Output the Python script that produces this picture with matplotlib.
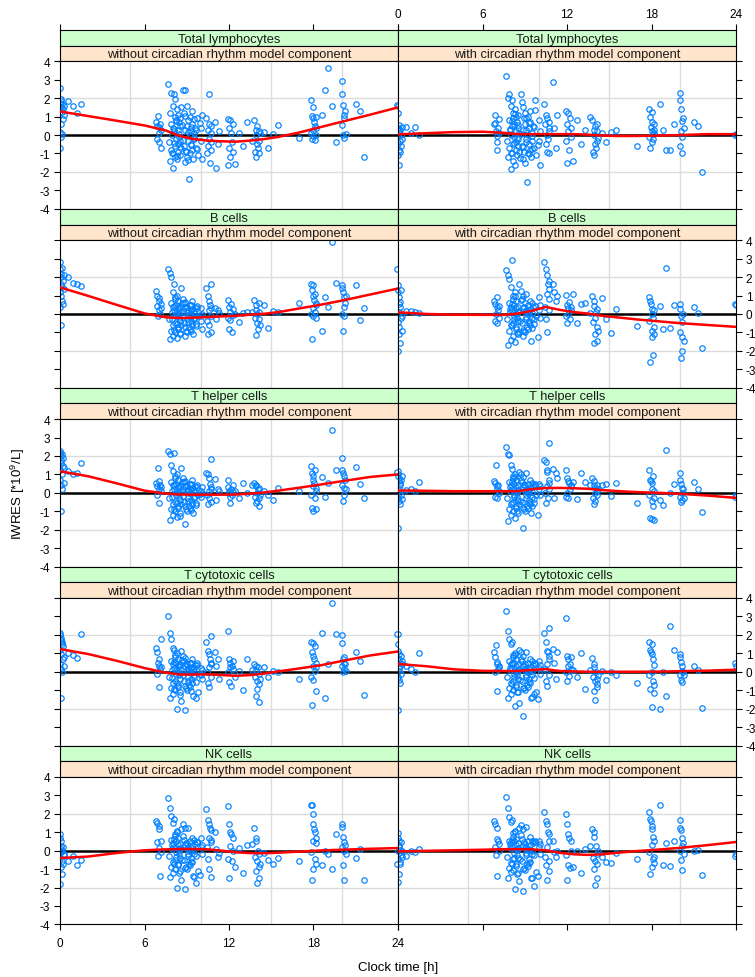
import matplotlib
matplotlib.use("Agg")
import matplotlib.pyplot as plt

plt.rcParams['font.family'] = ['Liberation Sans', 'DejaVu Sans']
plt.rcParams['axes.unicode_minus'] = False
plt.rcParams['mathtext.fontset'] = 'custom'
plt.rcParams['mathtext.rm'] = 'Liberation Sans'

# sampling clock times [h] (same samples for every cell type)
clock_h = [
    0.0, 0.0, 0.02, 0.03, 0.05, 0.06, 0.08, 0.1, 0.1, 0.12, 0.15, 0.17, 0.2, 0.22, 0.25, 0.3,
    0.6, 0.9, 1.2, 1.5,
    6.85, 6.9, 6.9, 6.95, 7.0, 7.0, 7.05, 7.1, 7.15, 7.2,
    7.7, 7.75, 7.8, 7.8, 7.85, 7.9, 7.9, 7.95, 8.0, 8.0, 8.05, 8.05, 8.1, 8.1, 8.15, 8.15, 8.2,
    8.2, 8.25, 8.25, 8.3, 8.3, 8.35, 8.35, 8.4, 8.4, 8.45, 8.45, 8.5, 8.5, 8.55, 8.55, 8.6, 8.6,
    8.75, 8.8, 8.8, 8.85, 8.9, 8.9, 8.95, 9.0, 9.0, 9.05, 9.1, 9.1, 9.15, 9.2, 9.2, 9.25, 9.3,
    9.3, 9.35, 9.4, 9.4, 9.45, 9.5, 9.55, 9.6, 9.65, 9.7, 9.8,
    10.0, 10.02, 10.05, 10.1,
    10.4, 10.45, 10.5, 10.5, 10.55, 10.6, 10.6, 10.65, 10.7, 10.7, 10.75, 10.75,
    11.0, 11.1, 11.2, 11.3,
    11.9, 11.95, 12.0, 12.0, 12.05, 12.1, 12.15, 12.2, 12.25, 12.3,
    12.45, 12.7, 13.0, 13.3, 13.6,
    13.8, 13.85, 13.9, 13.9, 13.95, 14.0, 14.0, 14.05, 14.1, 14.1, 14.15, 14.2,
    14.5, 14.8, 15.1, 15.5,
    17.0,
    17.8, 17.85, 17.9, 17.9, 17.95, 18.0, 18.0, 18.0, 18.05, 18.1, 18.1, 18.15, 18.2, 18.2,
    18.6, 18.8, 19.0, 19.3, 19.6,
    20.0, 20.0, 20.05, 20.1, 20.1, 20.15, 20.2, 20.2, 20.25, 20.3,
    21.0, 21.3, 21.6,
    23.9, 24.0,
    7.95, 8.07, 8.13, 8.22, 8.33, 8.47, 8.52, 8.66, 8.72, 8.88,
    8.93, 9.07, 9.12, 9.27, 9.33, 9.48, 9.52, 9.68, 9.74, 9.92,
]

tl_without = [
    1.75, -0.7, 2.55, 0.15, 1.95, 0.6, 1.5, -0.1, 1.85, 1.25, 0.05, 1.7, 0.85, 1.4, 1.1, 1.6,
    1.85, 1.55, 1.2, 1.7,
    0.7, -0.2, 0.5, 1.05, -0.35, 0.45, 0.1, 0.6, -0.7, 0.3,
    2.75, -0.4, 1.2, -1.4, 0.6, 2.3, -0.8, 0.0, 1.6, -1.8, 0.4, -1.0, 2.2, 0.2, -0.6, 1.0, -1.2,
    1.95, -0.2, 0.8, -1.3, 1.4, -0.5, 0.3, -0.9, 1.1, -0.1, 0.7, -1.1, 0.9, -0.3, 0.5, -0.7, 1.5,
    2.45, -0.6, 1.2, -1.45, 0.3, 2.45, -0.9, 0.5, -1.2, 1.6, -0.3, 0.8, -2.4, 0.0, 1.0, -1.0,
    0.2, -0.5, 1.3, -0.8, 0.6, -1.3, 0.1, -0.2, 0.4, -0.7, 0.9, -1.1,
    0.4, -0.3, -1.3, 1.1,
    0.9, -1.0, 0.3, -0.6, 2.2, -0.2, 0.6, -1.5, 0.1, -0.8, 0.5, -0.4,
    0.7, -1.8, -0.5, 0.2,
    0.85, -1.65, 0.4, -0.7, 0.8, -1.2, 0.1, -0.4, 0.6, -0.9,
    -1.55, 0.1, -0.6, 0.7, -0.3,
    0.8, -0.9, 0.3, -1.2, 0.0, -0.5, 0.5, -0.7, 0.2, -0.3, -1.0, 0.1,
    0.15, -0.7, 0.05, 0.55,
    -0.15,
    1.9, 0.1, 1.05, -0.2, 1.5, 0.3, 0.9, -0.05, 0.7, -0.25, 0.5, 1.0, 0.0, 0.4,
    1.1, 2.45, 3.65, 1.55, -0.4,
    2.95, 0.55, 2.2, 0.0, 1.65, -0.15, 1.1, 0.9, 1.3, 0.05,
    1.7, 1.3, -1.2,
    1.65, 1.6,
    -0.95, 0.35, -0.45, 0.75, -1.15, 0.05, -0.65, 0.55, -0.25, 1.05,
    -0.85, 0.15, -1.35, 0.45, -0.55, 0.85, -0.15, 0.25, -0.75, 0.65,
]

tl_with = [
    1.2, -0.5, 0.4, -1.1, 0.2, -0.8, 0.55, -1.6, 0.1, -0.3, 0.3, -0.9, 0.0, -0.6, 0.45, -0.2,
    0.45, 0.1, 0.45, 0.0,
    0.58, 0.67, 1.1, 0.2, -0.05, -0.4, -0.8, 0.4, 0.85, 0.1,
    3.2, -0.3, 2.0, -1.2, 0.8, 2.2, -0.7, 0.3, 1.6, -1.85, 0.0, -1.0, 1.9, 0.5, -0.5, 1.2, -1.4,
    0.9, -0.1, 0.6, -1.6, 1.4, -0.8, 0.2, -0.4, 1.0, -1.1, 0.7, -0.2, 0.4, -0.6, 1.1, -0.9, 0.1,
    2.2, -0.6, 1.8, -1.3, 0.3, 1.5, -0.9, 0.6, -1.5, 1.2, -0.2, 0.9, -2.55, 0.0, 1.0, -1.0,
    0.4, -0.5, 1.3, -0.8, 0.7, -1.2, 0.1, -0.3, 0.5, -0.7, 1.9, -1.1,
    0.8, -0.3, 0.2, -1.6,
    1.7, 0.6, -0.5, 1.1, 0.0, -0.9, 0.9, -0.2, 0.4, -1.0, 0.2, 0.7,
    2.9, 0.4, -0.7, 1.1,
    1.3, -0.3, 0.6, -1.5, 1.2, 0.2, -0.8, 0.9, -0.1, 0.4,
    -1.4, 0.8, -0.5, 0.3, 1.0,
    0.8, -0.9, 0.3, -1.1, 0.0, -0.5, 0.5, -0.7, 0.2, -0.3, 0.6, -0.15,
    0.1, -0.4, 0.15, 0.25,
    -0.6,
    1.4, -0.1, 1.0, -0.7, 0.45, 0.2, 1.25, -0.35, 0.7, 0.05, -0.2, 0.6, 0.1, 0.3,
    1.7, 0.3, -0.8, -0.8, 0.6,
    2.3, -0.6, 1.9, 0.2, 1.4, -1.0, 0.75, -0.1, 0.9, 0.4,
    0.7, 0.5, -2.0,
    0.0, 0.05,
    0.35, -0.95, 0.75, -0.45, 1.15, -0.15, 0.55, -1.25, 0.05, -0.65,
    0.95, -0.35, 0.25, -1.05, 0.65, -0.05, -0.75, 0.45, 1.35, -0.55,
]

b_without = [
    2.8, 1.2, 2.45, 0.35, 2.15, 1.6, -0.6, 2.0, 1.0, 1.45, 2.5, 0.7, 1.8, 0.55, 2.1, 1.35,
    2.0, 1.7, 1.6, 1.5,
    1.25, 0.45, 1.0, -0.1, 0.7, 0.2, 0.85, 0.0, 0.55, 0.3,
    2.45, -0.3, 2.2, -1.35, 0.6, 2.0, -0.9, 0.1, 1.2, -1.2, 0.4, -0.6, 1.6, 0.2, -0.5, 0.9, -1.0,
    0.8, -0.1, 0.5, -1.3, 1.0, -0.7, 0.3, -0.8, 0.7, -0.2, 0.0, -1.1, 0.35, -0.4, 0.15, -0.6, 1.4,
    0.8, -0.5, 0.6, -1.2, 0.3, 0.65, -0.9, 0.1, -1.0, 0.4, -0.3, 0.2, -0.7, 0.0, 0.5, -0.8,
    0.15, -0.4, 0.7, -0.6, 0.25, -1.1, 0.05, -0.2, 0.35, -0.55, 0.45, -0.1,
    0.3, -0.4, 0.0, -0.8,
    1.4, -0.4, 1.0, -1.1, 0.7, 0.2, -0.6, 0.5, -1.0, 1.65, -0.1, 0.3,
    0.3, -0.3, 0.2, 0.05,
    0.75, -0.2, 0.4, -0.8, 0.1, -0.35, 0.55, -1.0, 0.25, -0.05,
    0.0, -0.45, 0.05, 0.1, 0.1,
    0.75, -0.2, 0.5, -1.15, 0.2, -0.5, 0.0, -0.8, 0.6, -0.3, 0.1, -0.6,
    0.5, -0.75, 0.15, 0.1,
    0.6,
    1.65, 0.0, 1.3, -1.35, 0.95, 0.3, 1.55, -0.1, 0.75, 0.1, 1.1, -0.2, 0.5, 0.6,
    -0.95, 0.9, 0.4, 3.9, 1.7,
    1.55, 0.0, 1.4, -0.95, 1.2, 0.35, 0.9, -0.1, 0.6, 1.0,
    1.55, -0.35, 0.3,
    2.45, 1.3,
    -0.25, 0.45, -0.85, 0.05, -0.55, 0.25, -1.05, 0.6, -0.15, -0.7,
    0.35, -0.45, 0.1, -0.95, 0.5, -0.3, 0.15, -0.65, 0.3, -0.05,
]

b_with = [
    1.55, -0.45, 1.2, -2.0, 0.9, 0.1, -1.1, 0.55, -0.7, 0.35, -1.55, 0.65, -0.2, 1.3, -0.9, -0.1,
    0.15, 0.15, 0.1, 0.05,
    0.7, -0.4, 0.55, 0.0, 0.35, -0.5, 0.9, 0.2, -0.2, 0.45,
    2.4, -0.3, 2.1, -1.7, 0.6, 1.9, -0.9, 0.1, 1.45, -1.4, 0.4, -0.6, 2.9, 0.2, -0.5, 1.0, -1.2,
    0.8, -0.1, 0.5, -1.5, 1.2, -0.7, 0.3, -0.8, 0.7, -0.2, 0.0, -1.1, 0.35, -0.4, 0.15, -1.0, 1.6,
    1.25, -0.5, 0.8, -1.2, 0.3, 0.95, -0.9, 0.1, -1.0, 0.6, -0.3, 0.2, -0.7, 0.0, 0.5, -0.8,
    0.15, -0.4, 0.7, -0.6, 0.25, -1.45, 0.05, -0.2, 0.35, -0.55, 0.45, -0.1,
    0.9, 0.2, -0.2, 0.5,
    2.8, 0.35, 2.45, -0.25, 2.1, 1.1, -1.0, 1.6, 0.8, 1.35, 0.2, 1.8,
    1.65, 1.2, 0.7, 1.0,
    1.05, -0.1, 0.5, -0.5, 0.3, 0.0, 0.65, -0.3, 0.2, 0.4,
    1.1, -0.5, 0.55, 0.6, 0.05,
    0.95, -0.45, 0.7, -1.6, 0.45, -0.2, -1.1, 0.1, -0.7, 0.25, -1.45, -0.9,
    0.85, -0.3, -1.05, 0.25,
    -0.65,
    0.9, -0.4, 0.7, -2.6, 0.55, -0.9, 0.25, -1.25, 0.0, -2.25, -0.2, -0.7, 0.2, -1.1,
    0.45, -0.8, 2.5, -0.75, 0.5,
    0.55, -1.0, 0.25, -2.4, -0.1, -1.25, -0.45, -2.0, 0.0, -1.45,
    0.35, 0.05, -1.85,
    0.55, 0.5,
    0.25, -0.6, 0.55, -0.25, 0.95, -1.05, 0.1, -0.4, 0.75, -0.85,
    0.35, -0.15, 1.1, -0.5, 0.05, -0.75, 0.6, -0.3, 0.45, -1.25,
]

th_without = [
    2.25, 0.7, 2.15, 1.25, -1.0, 2.0, 0.45, 1.8, 1.6, 0.2, 2.1, 1.0, 1.9, 1.45, 0.55, 1.35,
    1.2, 1.0, 1.1, 1.6,
    0.55, -0.1, 0.35, 1.35, 0.2, 0.65, -0.55, 0.45, 0.1, 0.3,
    2.25, -0.3, 2.1, -1.45, 0.6, 1.5, -0.9, 0.1, 1.2, -1.2, 0.4, -0.6, 2.15, 0.2, -0.5, 0.9, -1.0,
    0.8, -0.1, 0.5, -1.3, 1.0, -0.7, 0.3, -0.8, 0.7, -0.2, 0.0, -1.1, 0.35, -0.4, 0.15, -0.6, 1.35,
    0.8, -0.5, 0.6, -1.7, 0.3, 0.65, -0.9, 0.1, -1.0, 0.4, -0.3, 0.2, -0.7, 0.0, 0.5, -0.8,
    0.15, -0.4, 0.7, -0.6, 0.25, -1.1, 0.05, -0.2, 0.35, -0.55, 0.45, -0.1,
    0.1, -0.2, 0.3, 0.0,
    1.05, -0.1, 1.0, -0.6, 0.8, 0.1, -0.3, 0.5, -0.5, 0.3, 0.2, 1.85,
    0.75, -0.4, 0.2, 0.1,
    0.7, 0.3, 0.1, 0.0, -0.2, -0.55, 0.2, -0.1, 0.4, 0.05,
    0.1, -0.3, 0.55, 0.0, 0.45,
    0.55, -0.2, 0.45, -0.55, 0.35, 0.0, -0.45, 0.2, -0.7, 0.25, -0.3, -0.1,
    0.1, -0.1, -0.4, 0.25,
    0.1,
    1.45, -0.1, 1.1, -0.8, 0.9, 0.35, 0.7, -1.0, 0.55, -0.3, 1.25, 0.1, 0.25, -0.9,
    0.85, -0.25, 0.55, 3.4, 1.25,
    1.9, 0.45, 1.25, -0.45, 1.1, 0.25, 0.9, -0.1, 0.7, 0.2,
    1.4, 0.5, -0.3,
    1.15, 0.9,
    -0.25, 0.45, -0.85, 0.05, -0.55, 0.25, -1.25, 0.6, -0.15, -0.7,
    0.35, -0.45, 0.1, -0.95, 0.5, -0.3, 0.15, -0.65, 0.3, -0.05,
]

th_with = [
    1.2, -0.3, 1.0, -1.9, 0.8, 0.2, -0.45, 0.65, 0.0, 0.55, -0.6, 0.45, -0.1, 0.7, -0.35, 0.9,
    0.15, 0.2, 0.1, 0.6,
    0.65, -0.2, 0.55, 1.5, 0.35, -0.3, 0.2, 0.45, 0.0, 0.1,
    2.5, -0.3, 2.1, -1.5, 0.6, 2.05, -0.9, 0.1, 1.5, -1.2, 0.4, -0.6, 1.3, 0.2, -0.5, 0.9, -1.0,
    0.8, -0.1, 0.5, -1.35, 1.0, -0.7, 0.3, -0.8, 0.7, -0.2, 0.0, -1.1, 0.35, -0.4, 0.15, -0.6, 1.15,
    1.0, -0.5, 0.6, -1.9, 0.3, 0.85, -0.9, 0.1, -1.0, 0.4, -0.3, 0.2, -0.7, 0.0, 0.5, -0.8,
    0.15, -0.4, 0.7, -0.6, 0.25, -1.1, 0.05, -0.2, 0.35, -0.55, 0.45, -0.1,
    0.5, 0.2, -0.1, 0.35,
    1.8, 0.0, 1.7, -0.55, 1.25, 0.35, 1.15, -0.3, 0.7, 0.2, 0.55, 2.7,
    1.3, -0.3, 1.1, 0.8,
    1.25, -0.2, 0.8, 0.0, 0.65, -0.3, 0.55, 0.2, 0.45, 0.35,
    0.6, -0.35, 1.05, 0.6, 0.4,
    0.8, -0.3, 0.65, -0.6, 0.45, 0.0, -0.45, 0.25, -0.1, 0.1, 0.4, 0.2,
    0.45, 0.5, -0.15, 0.55,
    -0.55,
    1.25, -0.1, 0.7, -1.35, 0.65, -0.45, 0.55, -1.4, 0.2, -0.7, 0.9, -0.3, 0.1, -1.45,
    -0.4, -0.65, 2.3, 0.0, 0.5,
    1.05, -0.2, 0.7, -0.5, 0.5, 0.0, 0.25, -0.4, 0.2, -0.3,
    0.6, 0.2, -1.05,
    -0.2, -0.1,
    0.3, -0.55, 0.6, -0.2, 0.85, -1.0, 0.15, -0.45, 0.7, -0.8,
    0.4, -0.1, 1.05, -0.55, 0.0, -0.7, 0.55, -0.35, 0.5, -1.2,
]

tc_without = [
    2.1, 0.4, 2.0, 1.2, -1.4, 1.85, 0.15, 1.7, 0.95, 1.5, 0.0, 1.6, 0.7, 1.4, 0.3, 0.8,
    1.0, 0.9, 0.75, 2.05,
    1.3, -0.1, 1.05, 0.5, -0.85, 0.7, 0.3, 0.15, 1.75, 0.25,
    3.05, -0.3, 2.1, -1.45, 0.6, 1.8, -0.9, 0.1, 1.3, -1.2, 0.4, -0.6, 1.2, 0.2, -0.5, 0.9, -1.0,
    0.8, -0.1, 0.5, -2.0, 1.0, -0.7, 0.3, -0.8, 0.7, -0.2, 0.0, -1.1, 0.35, -0.4, 0.15, -1.6, 1.1,
    0.85, -0.5, 0.6, -2.05, 0.3, 0.75, -0.9, 0.1, -1.0, 0.4, -0.3, 0.2, -0.7, 0.0, 0.5, -0.8,
    0.15, -0.4, 0.7, -0.6, 0.25, -1.3, 0.05, -0.2, 0.35, -0.55, 0.45, -1.1,
    0.2, -0.2, 0.1, -0.4,
    1.6, 0.0, 1.15, -0.6, 0.95, 0.25, -0.85, 0.7, -0.3, 0.5, 1.95, 0.4,
    1.05, 0.3, 0.7, -0.4,
    2.2, 0.0, 0.7, -0.55, 0.5, 0.25, -0.75, 0.3, 0.15, 0.6,
    -0.3, 0.05, -1.0, 0.7, 0.1,
    0.4, -0.3, 0.3, -1.3, 0.1, -0.5, -0.95, 0.25, -1.65, -0.1, -0.65, -0.4,
    0.25, -0.3, 0.05, 0.0,
    -0.4,
    1.6, -0.3, 1.05, -1.8, 0.85, 0.3, 1.55, -0.45, 0.7, 0.05, 1.4, -1.05, 0.5, 0.25,
    2.1, -1.45, 0.4, 3.75, 2.05,
    2.0, 0.3, 1.55, 0.0, 0.7, 0.15, 0.5, 0.8, 0.4, 0.05,
    1.05, 0.6, -1.25,
    2.05, 1.5,
    -0.35, 0.55, -0.95, 0.1, -0.6, 0.3, -1.25, 0.65, -0.2, -0.75,
    0.4, -0.5, 0.05, -1.05, 0.5, -0.3, 0.2, -1.4, 0.35, -0.1,
]

tc_with = [
    2.05, -0.3, 1.15, -2.05, 0.95, 0.2, -0.45, 0.7, 0.05, 0.5, -0.6, 0.3, -0.1, 0.85, 0.4, 0.6,
    0.3, 0.15, 0.0, 1.0,
    1.05, 0.0, 0.8, 1.45, 0.55, -1.05, 0.4, 0.15, 0.3, 0.25,
    3.3, -0.3, 2.2, -1.45, 0.6, 1.8, -0.9, 0.1, 1.5, -1.2, 0.4, -0.6, 1.6, 0.2, -0.5, 0.9, -1.0,
    0.8, -0.1, 0.5, -1.85, 1.0, -0.7, 0.3, -0.8, 0.7, -0.2, 0.0, -1.1, 0.35, -0.4, 0.15, -1.7, 1.2,
    1.05, -0.5, 0.6, -2.4, 0.3, 0.85, -0.9, 0.1, -1.0, 0.4, -0.3, 0.2, -0.7, 0.0, 0.5, -0.8,
    0.15, -0.4, 0.7, -0.6, 0.25, -1.4, 0.05, -0.2, 0.35, -1.2, 0.45, -1.1,
    0.6, 0.2, -0.1, 0.35,
    2.1, 0.15, 1.6, -0.5, 1.15, 0.4, -0.75, 1.05, -0.2, 0.85, 0.7, 2.4,
    1.25, 0.45, -0.4, 1.05,
    2.9, 0.0, 0.85, -0.5, 0.7, 0.3, -0.25, 0.4, 0.8, 0.15,
    0.1, -0.3, 1.0, -0.95, 0.1,
    0.75, -0.3, 0.4, -1.05, 0.25, -0.5, -1.55, 0.0, -0.85, -0.4, -0.65, -0.2,
    0.05, -0.45, 0.0, -0.15,
    -0.6,
    1.6, -0.2, 1.2, -0.95, 1.05, 0.0, 1.5, -1.9, 0.95, -0.5, 0.7, -1.15, 0.35, -0.7,
    -2.0, 0.0, -1.3, 2.5, 1.2,
    0.95, -0.15, 0.8, -0.45, 0.55, 0.05, -0.55, 0.3, 0.0, -0.2,
    0.3, 0.1, -1.95,
    0.5, 0.3,
    0.2, -0.65, 0.5, -0.3, 0.9, -1.1, 0.05, -0.45, 0.7, -0.9,
    0.3, -0.2, 1.05, -0.55, 0.0, -1.35, 0.6, -0.35, 0.4, -1.5,
]

nk_without = [
    0.9, -0.4, 0.7, -1.8, 0.55, -0.1, 0.25, -0.9, 0.1, -0.55, 0.0, -1.25, 0.2, -0.7, -0.25, -0.2,
    -0.55, -0.3, -0.8, -0.5,
    1.6, 0.45, 1.5, -0.3, 1.35, 0.15, 1.15, -1.4, 0.55, -0.1,
    2.85, -0.3, 2.3, -1.45, 0.6, 1.9, -0.9, 0.1, 1.5, -1.2, 0.4, -0.6, 1.7, 0.2, -0.5, 0.9, -1.0,
    0.8, -0.1, 0.5, -2.05, 1.0, -0.7, 0.3, -0.8, 0.7, -0.2, 0.0, -1.1, 0.35, -0.4, 0.15, -1.6, 1.2,
    1.45, -0.5, 0.6, -2.1, 0.3, 1.25, -0.9, 0.1, -1.0, 0.4, -0.3, 0.2, -0.7, 0.0, 0.5, -0.8,
    0.15, -0.4, 0.7, -0.6, 0.25, -1.4, 0.05, -0.2, 0.35, -1.75, 0.45, -1.1,
    0.7, 0.2, -0.2, 0.3,
    2.25, 0.2, 1.65, -0.45, 1.45, 0.7, -1.0, 1.25, -1.45, 1.1, 0.45, 0.6,
    1.0, 0.1, -0.35, -0.15,
    2.4, -0.45, 1.45, -1.5, 1.0, 0.25, 0.9, -0.55, 0.0, 0.7,
    -0.9, 0.15, -1.2, 0.3, 0.35,
    1.25, -0.35, 0.7, -1.1, 0.55, -0.55, -1.75, 0.0, -0.9, -0.2, -1.5, -0.7,
    -0.15, -0.5, -0.7, -0.4,
    -0.55,
    2.5, -0.1, 2.45, -1.6, 2.0, 0.55, 1.45, -1.0, 1.15, -0.45, 1.0, -0.7, 0.4, 0.7,
    -0.8, 0.0, -0.2, -1.0, 0.9,
    1.45, 0.2, 1.3, -0.8, 0.75, -1.6, 0.45, 0.0, 0.3, -0.2,
    -0.4, 0.1, -1.6,
    -0.7, 0.0,
    0.3, -0.75, 0.65, -0.35, 1.05, -1.2, 0.1, -0.5, 0.8, -0.95,
    0.4, -0.2, 1.25, -0.6, 0.0, -1.45, 0.6, -0.3, 0.45, -1.3,
]

nk_with = [
    0.95, -0.45, 0.7, -1.7, 0.55, -0.15, 0.3, -1.25, 0.2, -0.6, 0.05, -0.7, 0.45, -0.25, 0.0, -0.35,
    -0.3, 0.0, -0.1, 0.1,
    1.6, 0.2, 1.45, -0.25, 1.25, 0.65, -1.4, 0.5, 0.35, 0.0,
    2.9, -0.35, 2.3, -1.5, 0.55, 1.85, -0.95, 0.15, 1.55, -1.15, 0.45, -0.65, 1.65, 0.25, -0.45,
    0.95, -1.05, 0.75, -0.15, 0.5, -2.1, 1.05, -0.75, 0.3, -0.85, 0.65, -0.25, 0.05, -1.2, 0.4,
    -0.4, 0.1, -1.65, 1.25,
    1.4, -0.55, 0.65, -2.2, 0.25, 1.2, -0.95, 0.15, -1.05, 0.35, -0.25, 0.2, -0.75, 0.05, 0.5,
    -0.85, 0.1, -0.45, 0.75, -0.6, 0.3, -1.5, 0.0, -0.2, 0.4, -1.9, 0.45, -1.15,
    0.5, 0.2, -0.2, 0.35,
    2.1, -0.35, 1.6, -0.8, 1.45, 0.2, -1.6, 1.0, -0.55, 0.9, -1.1, 0.55,
    0.5, -0.1, -0.35, 0.0,
    2.0, -0.25, 1.45, -1.6, 0.9, -0.8, 0.7, -0.95, 0.55, 0.0,
    -0.9, 0.0, -1.2, 0.1, 0.25,
    1.15, -0.4, 1.0, -1.0, 0.75, -0.55, -1.85, 0.25, -0.75, -0.2, -1.5, 0.0,
    -0.35, -0.6, -0.65, -0.15,
    -0.45,
    2.1, -0.1, 1.7, -1.25, 1.6, 0.3, 1.35, -0.9, 1.15, -0.45, 0.75, -0.65, 0.55, -0.35,
    2.5, -0.8, 0.4, -0.85, 0.5,
    1.65, 0.0, 1.25, -0.5, 1.1, -1.05, 0.7, 0.25, 0.4, -0.2,
    0.0, 0.05, -1.3,
    -0.3, -0.2,
    0.35, -0.7, 0.6, -0.4, 1.0, -1.25, 0.15, -0.45, 0.85, -1.0,
    0.45, -0.15, 1.3, -0.65, 0.05, -1.5, 0.55, -0.25, 0.5, -1.35,
]

# smoother through the residuals, evaluated at these clock times
smooth_h = [0, 2, 4, 6, 7.5, 8.5, 9.5, 10.5, 11.5, 12.5, 13.5, 14.5, 15.5, 17, 18.5, 20, 22, 24]
tl_without_fit = [1.28, 1.03, 0.78, 0.52, 0.25, -0.05, -0.22, -0.3, -0.34, -0.36, -0.3, -0.22, -0.1, 0.14, 0.43, 0.72, 1.1, 1.5]
tl_with_fit = [0.04, 0.1, 0.16, 0.18, 0.12, 0.05, 0.05, 0.05, 0.05, 0.05, 0.02, -0.03, -0.05, -0.05, -0.03, 0.0, 0.05, 0.05]
b_without_fit = [1.44, 0.98, 0.5, 0.03, -0.18, -0.22, -0.2, -0.17, -0.13, -0.1, -0.04, 0.01, 0.1, 0.3, 0.5, 0.72, 1.05, 1.38]
b_with_fit = [0.09, 0.0, -0.04, -0.05, -0.05, 0.02, 0.17, 0.38, 0.22, 0.1, 0.02, -0.1, -0.18, -0.3, -0.4, -0.5, -0.6, -0.7]
th_without_fit = [1.17, 0.9, 0.52, 0.12, -0.04, -0.09, -0.1, -0.1, -0.1, -0.09, -0.04, 0.02, 0.12, 0.28, 0.45, 0.63, 0.86, 1.0]
th_with_fit = [0.13, 0.11, 0.09, 0.09, 0.09, 0.09, 0.2, 0.26, 0.27, 0.25, 0.22, 0.15, 0.1, 0.04, 0.0, -0.05, -0.15, -0.27]
tc_without_fit = [1.23, 0.96, 0.6, 0.2, -0.05, -0.15, -0.15, -0.14, -0.18, -0.22, -0.18, -0.1, 0.02, 0.18, 0.35, 0.58, 0.88, 1.1]
tc_with_fit = [0.42, 0.3, 0.13, 0.05, 0.04, 0.04, 0.1, 0.14, 0.04, 0.02, 0.0, 0.0, 0.0, 0.0, 0.01, 0.03, 0.06, 0.11]
nk_without_fit = [-0.4, -0.32, -0.13, 0.02, 0.07, 0.09, 0.09, 0.07, 0.0, -0.09, -0.13, -0.14, -0.11, -0.05, 0.01, 0.05, 0.1, 0.14]
nk_with_fit = [-0.04, -0.01, 0.02, 0.05, 0.08, 0.08, 0.07, 0.02, -0.12, -0.2, -0.23, -0.2, -0.12, -0.02, 0.06, 0.15, 0.3, 0.47]

cell_types = ["Total lymphocytes", "B cells", "T helper cells", "T cytotoxic cells", "NK cells"]
models = ["without circadian rhythm model component", "with circadian rhythm model component"]

iwres = [
    [tl_without, tl_with],
    [b_without, b_with],
    [th_without, th_with],
    [tc_without, tc_with],
    [nk_without, nk_with],
]
fits = [
    [tl_without_fit, tl_with_fit],
    [b_without_fit, b_with_fit],
    [th_without_fit, th_with_fit],
    [tc_without_fit, tc_with_fit],
    [nk_without_fit, nk_with_fit],
]

W, H = 755, 978
fig = plt.figure(figsize=(W / 100, H / 100), dpi=100)


def box(x0, y0, w, h):
    """pixel box (top-left origin) -> figure fraction rect"""
    return [x0 / W, 1 - (y0 + h) / H, w / W, h / H]


col_x = [60, 398]
col_w = 338
row_step = 178.9
strip_top = 31.0
strip_h = 15.65
panel_h = 147.5
grid_col = '#dcdcdc'
hours = [0, 6, 12, 18, 24]


def style_frame(a):
    for s in a.spines.values():
        s.set_linewidth(0.8)
        s.set_color('black')


for r, cell in enumerate(cell_types):
    for c, model in enumerate(models):
        x0 = col_x[c]
        top = strip_top + r * row_step

        # two strips: cell type on top, model variant below
        for k, (label, face) in enumerate([(cell, '#CCFFCC'), (model, '#FFE5CC')]):
            sax = fig.add_axes(box(x0, top + k * strip_h, col_w, strip_h))
            sax.set_facecolor(face)
            sax.set_xlim(0, 24)
            sax.set_yticks([])
            sax.text(0.5, 0.45, label, ha='center', va='center',
                     transform=sax.transAxes, fontsize=9.3, color='#1a1a1a')
            style_frame(sax)
            if r == 0 and k == 0:
                sax.set_xticks(hours)
                sax.tick_params(axis='x', top=True, bottom=False, labeltop=(c == 1),
                                labelbottom=False, direction='out', length=4,
                                width=0.8, labelsize=8.5, pad=3)
            else:
                sax.set_xticks([])

        ax = fig.add_axes(box(x0, top + 2 * strip_h, col_w, panel_h))
        ax.set_xlim(0, 24)
        ax.set_ylim(-4, 4)
        for v in (5, 10, 15, 20):
            ax.axvline(v, color=grid_col, lw=1.0, zorder=0)
        for h in (-2, 2):
            ax.axhline(h, color=grid_col, lw=1.0, zorder=0)
        ax.axhline(0, color='black', lw=1.8, zorder=1)
        ax.plot(clock_h, iwres[r][c], 'o', ms=3.9, mfc='none', mec='#0080ff',
                mew=0.85, zorder=2)
        ax.plot(smooth_h, fits[r][c], color='red', lw=1.8, zorder=3)
        style_frame(ax)

        ax.set_yticks(range(-4, 5))
        if c == 0:
            ax.tick_params(axis='y', left=True, right=False,
                           labelleft=(r % 2 == 0), labelright=False)
        else:
            ax.tick_params(axis='y', left=False, right=True,
                           labelleft=False, labelright=(r % 2 == 1))
        ax.tick_params(axis='y', direction='out', length=4, width=0.8,
                       labelsize=8.5, pad=3)

        if r == len(cell_types) - 1:
            ax.set_xticks(hours)
            ax.tick_params(axis='x', bottom=True, labelbottom=(c == 0),
                           direction='out', length=4, width=0.8,
                           labelsize=8.5, pad=5)
        else:
            ax.set_xticks([])

fig.text(18 / W, 1 - 494 / H, 'IWRES [*10$^{9}$/L]', rotation=90,
         ha='center', va='center', fontsize=9.5)
fig.text(398 / W, 1 - 968 / H, 'Clock time [h]', ha='center', va='center',
         fontsize=9.5)

fig.savefig('out.png', dpi=100)
